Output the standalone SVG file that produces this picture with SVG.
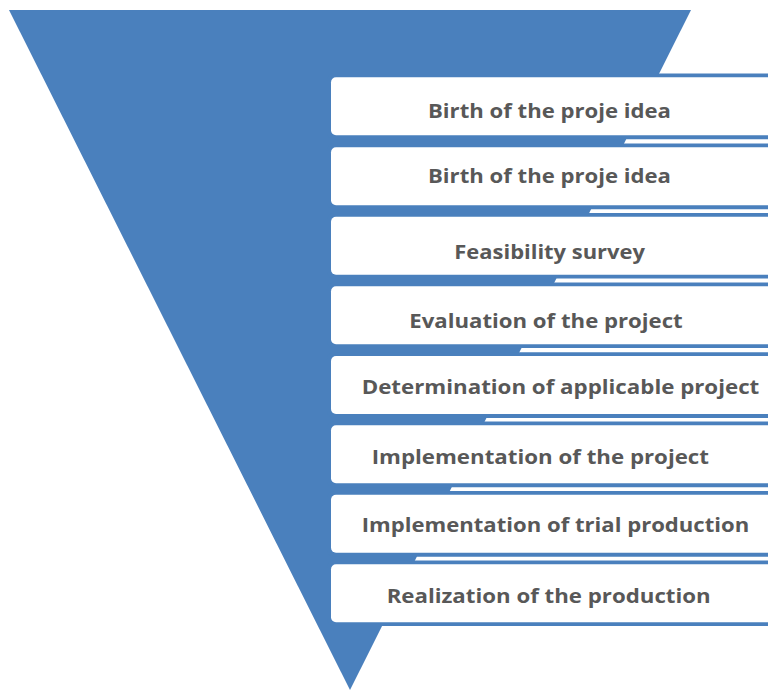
<svg xmlns="http://www.w3.org/2000/svg" width="768" height="691" viewBox="0 0 768 691">
  <defs>
    <style>
      .funnel { fill: #4a80bd; }
      .band { fill: #4a80bd; }
      .card { fill: #ffffff; }
      .label { font-family: "Open Sans", "Liberation Sans", sans-serif; font-weight: 700; font-size: 19.5px; fill: #585858; }
    </style>
  </defs>
  <rect width="768" height="691" fill="#ffffff"/>

  <!-- inverted funnel -->
  <polygon id="funnel" class="funnel" points="9,10 691,10 350,690"/>

  <!-- stage cards: blue band behind a white rounded card -->
  <g id="stage1">
    <rect class="band" x="327" y="73.5" width="460" height="65.7" rx="7"/>
    <rect class="card" x="331" y="77.3" width="450" height="58" rx="5"/>
    <text class="label" x="428" y="118" textLength="243" lengthAdjust="spacingAndGlyphs">Birth of the proje idea</text>
  </g>
  <g id="stage2">
    <rect class="band" x="327" y="143.5" width="460" height="65.7" rx="7"/>
    <rect class="card" x="331" y="147.3" width="450" height="58" rx="5"/>
    <text class="label" x="428" y="183" textLength="243" lengthAdjust="spacingAndGlyphs">Birth of the proje idea</text>
  </g>
  <g id="stage3">
    <rect class="band" x="327" y="212.9" width="460" height="65.7" rx="7"/>
    <rect class="card" x="331" y="216.7" width="450" height="58" rx="5"/>
    <text class="label" x="454.3" y="259" textLength="190.7" lengthAdjust="spacingAndGlyphs">Feasibility survey</text>
  </g>
  <g id="stage4">
    <rect class="band" x="327" y="282.4" width="460" height="65.7" rx="7"/>
    <rect class="card" x="331" y="286.2" width="450" height="58" rx="5"/>
    <text class="label" x="409.3" y="327.5" textLength="273.4" lengthAdjust="spacingAndGlyphs">Evaluation of the project</text>
  </g>
  <g id="stage5">
    <rect class="band" x="327" y="352.2" width="460" height="65.7" rx="7"/>
    <rect class="card" x="331" y="356" width="450" height="58" rx="5"/>
    <text class="label" x="361.7" y="393.5" textLength="397.6" lengthAdjust="spacingAndGlyphs">Determination of applicable project</text>
  </g>
  <g id="stage6">
    <rect class="band" x="327" y="421.5" width="460" height="65.7" rx="7"/>
    <rect class="card" x="331" y="425.3" width="450" height="58" rx="5"/>
    <text class="label" x="371.7" y="464" textLength="337.3" lengthAdjust="spacingAndGlyphs">Implementation of the project</text>
  </g>
  <g id="stage7">
    <rect class="band" x="327" y="491" width="460" height="65.7" rx="7"/>
    <rect class="card" x="331" y="494.8" width="450" height="58" rx="5"/>
    <text class="label" x="361.7" y="532" textLength="387.6" lengthAdjust="spacingAndGlyphs">Implementation of trial production</text>
  </g>
  <g id="stage8">
    <rect class="band" x="327" y="560.4" width="460" height="65.7" rx="7"/>
    <rect class="card" x="331" y="564.2" width="450" height="58" rx="5"/>
    <text class="label" x="386.7" y="603" textLength="324" lengthAdjust="spacingAndGlyphs">Realization of the production</text>
  </g>

  <g id="connectors"></g>
</svg>
